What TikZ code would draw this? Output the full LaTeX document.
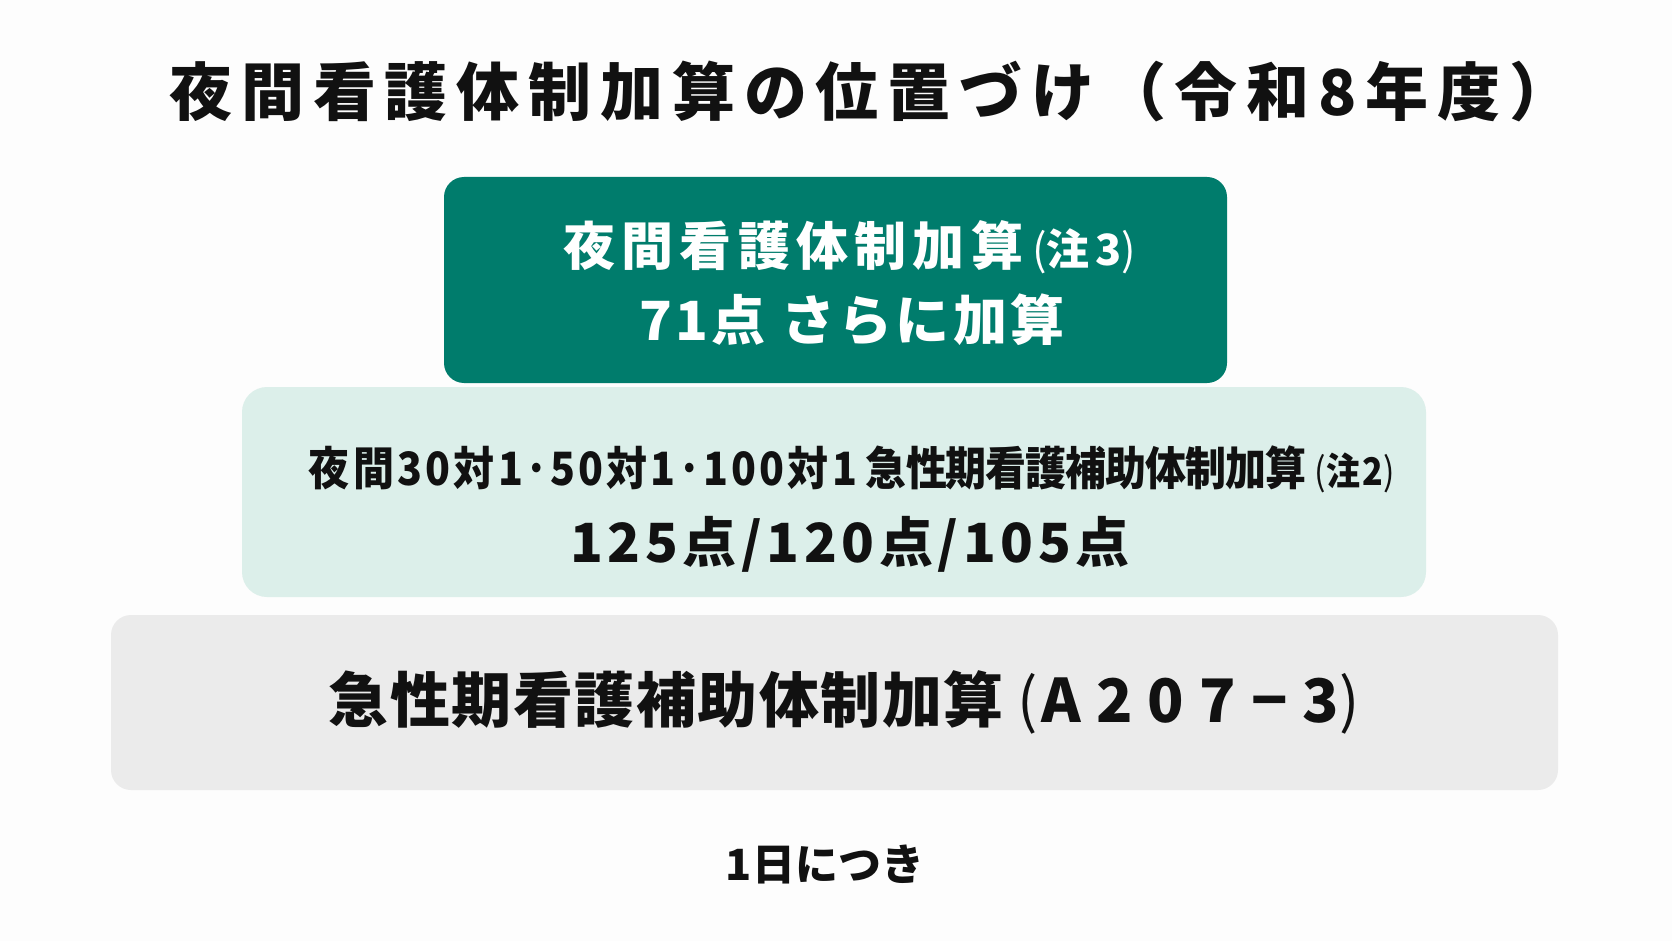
\documentclass[tikz,border=0pt]{standalone}
\usepackage{graphicx}
\usepackage{fontspec}
\setmainfont{Noto Sans CJK JP}
\definecolor{topgreen}{RGB}{0,124,108}
\definecolor{midmint}{RGB}{220,239,234}
\definecolor{basegray}{RGB}{235,235,235}
\definecolor{bgwhite}{RGB}{253,253,253}
\definecolor{inkblack}{RGB}{17,17,17}
\newcommand{\fs}[1]{\fontsize{#1}{#1}\selectfont}
\newcommand{\ls}[1]{\addfontfeature{LetterSpace=#1}}
\newcommand{\thinp}[1]{{\mdseries #1}}
\tikzset{
  tier/.style={rounded corners=20pt, inner sep=0pt, draw=none},
  label/.style={inner sep=0pt, text=inkblack, font=\bfseries},
}
\begin{document}
\begin{tikzpicture}[x=1pt,y=-1pt]
\fill[bgwhite] (0,0) rectangle (1672,941);
\useasboundingbox (0,0) rectangle (1672,941);
% title
\node[label] (title) at (871,91) {\fs{63}\ls{14}夜間看護体制加算の位置づけ（令和8年度）};
% tiers
\node[tier, fill=topgreen, minimum width=783pt, minimum height=206pt] (top) at (835.5,280) {};
\node[tier, fill=midmint, rounded corners=25pt, minimum width=1184pt, minimum height=210pt] (mid) at (834,492) {};
\node[tier, fill=basegray, minimum width=1447pt, minimum height=175pt] (base) at (834.5,702.5) {};
% texts
\node[label, text=white] (t1) at (850,247) {\fs{52}{\ls{12}夜間看護体制加算}\hspace{9pt}{\fs{43}\ls{14}\thinp{(}注3\thinp{)}}};
\node[label, text=white] (t2) at (852,320) {\fs{54}\ls{6}71点 さらに加算};
\node[label] (m1) at (852,469) {\scalebox{1}[1.12]{\fs{41}{\ls{8}夜間30対1･50対1･100対1}\hspace{9pt}{\ls{-2.5}急性期看護補助体制加算}\hspace{8pt}{\fs{34}\ls{8}\thinp{(}注2\thinp{)}}}};
\node[label] (m2) at (850,544) {\fs{54}\ls{8.5}125点/120点/105点};
\node[label] (b1) at (844,702) {\fs{60}{\ls{2.5}急性期看護補助体制加算}\hspace{14pt}\thinp{(}\hspace{4pt}{\ls{25}A207−3}\thinp{)}};
\node[label] (note) at (825,864) {\fs{43}1日につき};
\end{tikzpicture}
\end{document}
